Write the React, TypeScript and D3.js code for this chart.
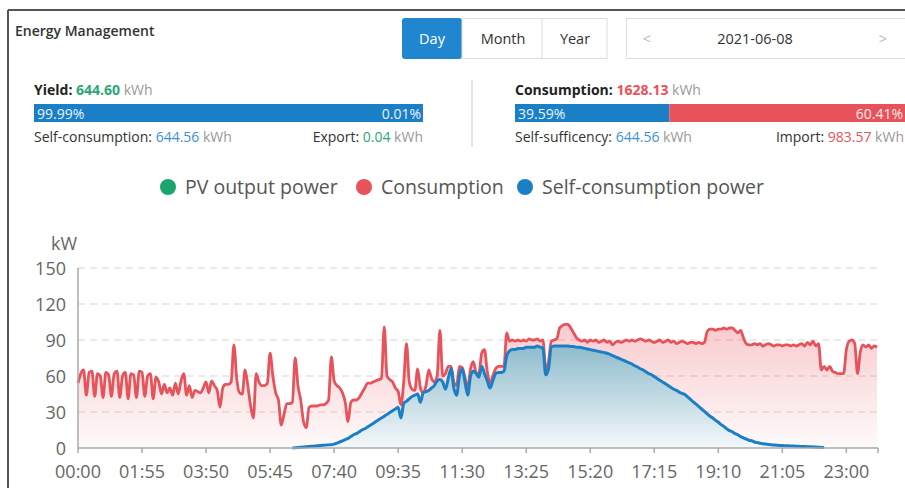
import React from 'react';
import * as d3 from 'd3';

// 5-minute samples, 00:00 .. 23:55
const times = d3.range(288).map(
  (i) => `${String(Math.floor((i * 5) / 60)).padStart(2, '0')}:${String((i * 5) % 60).padStart(2, '0')}`
);
const xTickLabels = ['00:00', '01:55', '03:50', '05:45', '07:40', '09:35', '11:30', '13:25', '15:20', '17:15', '19:10', '21:05', '23:00'];
const yTicks = [0, 30, 60, 90, 120, 150];

// kW
const consumption = [
  54, 62, 65, 44, 63, 64, 43, 62, 60, 42, 63, 61, 43, 62, 64, 42, 60, 63, 41, 62, 61, 42, 64, 63, 43, 60, 62, 41, 59, 55, 45,
  53, 46, 50, 44, 54, 45, 56, 62, 44, 52, 42, 48, 47, 46, 50, 55, 46, 56, 52, 48,
  34, 50, 53, 53, 55, 86, 58, 46, 45, 65,
  52, 35, 25, 62, 55, 52, 52, 54, 79, 60,
  46, 40, 19, 28, 37, 37, 38, 75, 52, 40,
  22, 17, 34, 35, 35, 35, 36, 36, 37, 40,
  76, 56, 52, 50, 46, 38, 22, 38, 40, 40,
  42, 46, 50, 54, 54, 55, 56, 57, 58, 101,
  60, 57, 55, 50, 47, 36, 55, 87, 55, 49,
  48, 66, 50, 46, 52, 65, 58, 55, 60, 98,
  60, 62, 68, 68, 55, 52, 68, 67, 59, 50,
  66, 72, 63, 62, 79, 82, 64, 54, 60, 66,
  68, 68, 68, 96, 89, 90, 89, 90, 89, 90,
  89, 91, 90, 90, 91, 89, 90, 66, 72, 89,
  90, 91, 100, 102, 103, 103, 100, 96, 92, 90,
  89, 90, 88, 90, 89, 90, 88, 89, 90, 88,
  89, 86, 88, 89, 88, 89, 90, 89, 90, 89,
  90, 91, 90, 89, 90, 89, 88, 89, 90, 88,
  89, 90, 88, 89, 87, 88, 89, 88, 87, 88,
  88, 87, 88, 87, 88, 97, 99, 99, 98, 99,
  99, 100, 99, 100, 100, 98, 96, 98, 92, 87,
  86, 86, 87, 86, 87, 85, 86, 87, 86, 85,
  86, 86, 85, 86, 86, 85, 86, 85, 86, 87,
  85, 88, 86, 89, 85, 87, 65, 68, 65, 68,
  64, 63, 62, 62, 62, 82, 89, 90, 87, 62,
  80, 86, 84, 86, 83, 85, 84,
];

// self-consumption power, starts at sample 77 (06:25)
const selfConsumptionStart = 77;
const selfConsumption = [
  0, 0.2, 0.4, 0.6, 0.8, 1, 1.2, 1.4, 1.6, 1.8,
  2, 2.2, 2.4, 2.6, 2.8, 3.2, 4, 5, 6, 7,
  8, 9.5, 11, 12, 13.5, 15, 16, 17.5, 19, 20.5,
  22, 23.5, 25, 26.5, 28, 29.5, 31, 32.5, 34, 25,
  37, 39, 41, 43, 44, 45, 38, 46, 47, 48,
  50, 52, 56, 57, 55, 49, 58, 66, 50, 44,
  60, 66, 55, 44, 60, 64, 62, 59, 68, 62,
  56, 50, 56, 62, 63, 63, 64, 77, 81, 82,
  82, 83, 83, 83, 84, 84, 84, 84, 85, 84,
  83, 61, 66, 84, 85, 85, 85, 85, 85, 85,
  84.5, 84.5, 84, 84, 83.5, 83, 82.5, 82, 81.5, 81,
  80.5, 80, 79.5, 79, 78, 77, 76, 75, 74, 73,
  72, 71, 70, 68.5, 67.5, 66, 65, 63.5, 62, 61,
  59.5, 58, 56.5, 55, 53.5, 52, 50.5, 49, 48, 46.5,
  45.5, 44.5, 42.5, 40.5, 38.5, 36.5, 34.5, 32.5, 30.5, 28.5,
  26.5, 25, 23, 21.5, 19.5, 18, 16, 14.5, 13.5, 12,
  11, 9.5, 8.5, 7.5, 6.5, 6, 5, 4.5, 4, 3.6,
  3.3, 3, 2.7, 2.5, 2.3, 2.1, 2, 1.9, 1.8, 1.7,
  1.6, 1.5, 1.4, 1.3, 1.2, 1.1, 1, 0.9, 0.8, 0.6,
  0.5, 0.4,
];

const legendItems = [
  { name: 'PV output power', color: '#1aa56c' },
  { name: 'Consumption', color: '#e8525a' },
  { name: 'Self-consumption power', color: '#1b7fc6' },
];

const FONT = "'Open Sans', 'Noto Sans', sans-serif";
const RED = '#e8525a';
const BLUE = '#1b7fc6';
const GREEN = '#2aa876';

export default function App() {
  const width = 905;
  const height = 488;
  const margin = { top: 268, right: 28, bottom: 40, left: 78 };

  const x = d3.scalePoint<string>().domain(times).range([margin.left, width - margin.right]);
  const y = d3.scaleLinear().domain([0, 150]).range([height - margin.bottom, margin.top]);

  const redData = consumption.map((v, i) => ({ t: times[i], v }));
  const blueData = selfConsumption.map((v, i) => ({ t: times[i + selfConsumptionStart], v }));

  const line = d3
    .line<{ t: string; v: number }>()
    .x((d) => x(d.t) as number)
    .y((d) => y(d.v))
    .curve(d3.curveMonotoneX);
  const area = d3
    .area<{ t: string; v: number }>()
    .x((d) => x(d.t) as number)
    .y0(y(0))
    .y1((d) => y(d.v))
    .curve(d3.curveMonotoneX);

  const legendX = [160, 356, 517];

  return (
    <svg
      width={width}
      height={height}
      style={{ position: 'absolute', left: 0, top: 0, background: '#fff' }}
      fontFamily={FONT}
    >
      <defs>
        <linearGradient id="redFill" x1="0" y1="0" x2="0" y2="1">
          <stop offset="0" stopColor={RED} stopOpacity={0.3} />
          <stop offset="1" stopColor={RED} stopOpacity={0.03} />
        </linearGradient>
        <linearGradient id="blueFill" x1="0" y1="0" x2="0" y2="1">
          <stop offset="0" stopColor="#8fbccd" stopOpacity={1} />
          <stop offset="1" stopColor="#f4f8fa" stopOpacity={1} />
        </linearGradient>
      </defs>

      {/* frame */}
      <line x1={8} x2={905} y1={10} y2={10} stroke="#555" strokeWidth={2} />
      <line x1={8} x2={8} y1={10} y2={488} stroke="#555" strokeWidth={2} />

      {/* header */}
      <text x={15} y={36} fontSize={14} fontWeight={600} fill="#333">Energy Management</text>
      <rect x={402} y={18} width={60} height={41} rx={3} fill="#1f86cf" />
      <text x={432} y={44} fontSize={14.5} fill="#fff" textAnchor="middle">Day</text>
      <rect x={462} y={18.5} width={145} height={40} fill="#fff" stroke="#ddd" />
      <line x1={542} x2={542} y1={18.5} y2={58.5} stroke="#ddd" />
      <text x={503} y={44} fontSize={14.5} fill="#333" textAnchor="middle">Month</text>
      <text x={575} y={44} fontSize={14.5} fill="#333" textAnchor="middle">Year</text>
      <rect x={626.5} y={18.5} width={290} height={40} fill="#fff" stroke="#ddd" />
      <text x={647} y={44} fontSize={14.5} fill="#bbb" textAnchor="middle">&lt;</text>
      <text x={755} y={44} fontSize={14.5} fill="#333" textAnchor="middle">2021-06-08</text>
      <text x={883} y={44} fontSize={14.5} fill="#bbb" textAnchor="middle">&gt;</text>

      {/* yield summary */}
      <text x={34} y={95} fontSize={14}>
        <tspan fontWeight={700} fill="#222">Yield: </tspan>
        <tspan fontWeight={700} fill={GREEN}>644.60</tspan>
        <tspan fill="#999"> kWh</tspan>
      </text>
      <rect x={34} y={104} width={389 * 0.9999} height={18} fill={BLUE} />
      <rect x={34 + 389 * 0.9999} y={104} width={389 * 0.0001} height={18} fill={GREEN} />
      <text x={37} y={118.5} fontSize={14} fill="#e8f2fa">99.99%</text>
      <text x={421} y={118.5} fontSize={14} fill="#e8f2fa" textAnchor="end">0.01%</text>
      <text x={34} y={142} fontSize={14}>
        <tspan fill="#333">Self-consumption: </tspan>
        <tspan fill="#3d8fd1">644.56</tspan>
        <tspan fill="#999"> kWh</tspan>
      </text>
      <text x={423} y={142} fontSize={14} textAnchor="end">
        <tspan fill="#333">Export: </tspan>
        <tspan fill={GREEN}>0.04</tspan>
        <tspan fill="#999"> kWh</tspan>
      </text>

      <line x1={472} x2={472} y1={80} y2={147} stroke="#ccc" />

      {/* consumption summary */}
      <text x={515} y={95} fontSize={14}>
        <tspan fontWeight={700} fill="#222">Consumption: </tspan>
        <tspan fontWeight={700} fill={RED}>1628.13</tspan>
        <tspan fill="#999"> kWh</tspan>
      </text>
      <rect x={515} y={104} width={390 * 0.3959} height={18} fill={BLUE} />
      <rect x={515 + 390 * 0.3959} y={104} width={390 * 0.6041} height={18} fill={RED} />
      <text x={518} y={118.5} fontSize={14} fill="#e8f2fa">39.59%</text>
      <text x={903} y={118.5} fontSize={14} fill="#fdeaea" textAnchor="end">60.41%</text>
      <text x={515} y={142} fontSize={14}>
        <tspan fill="#333">Self-sufficency: </tspan>
        <tspan fill="#3d8fd1">644.56</tspan>
        <tspan fill="#999"> kWh</tspan>
      </text>
      <text x={904} y={142} fontSize={14} textAnchor="end">
        <tspan fill="#333">Import: </tspan>
        <tspan fill={RED}>983.57</tspan>
        <tspan fill="#999"> kWh</tspan>
      </text>

      {/* legend */}
      {legendItems.map((d, i) => (
        <g key={d.name} transform={`translate(${legendX[i]},187)`}>
          <circle cx={8} cy={0} r={8} fill={d.color} />
          <text x={25} y={6.5} fontSize={19.5} fill="#555">{d.name}</text>
        </g>
      ))}

      {/* grid */}
      {yTicks.slice(1).map((t) => (
        <line key={t} x1={margin.left} x2={width - margin.right} y1={y(t)} y2={y(t)} stroke="#ddd3d3" strokeDasharray="7 5" />
      ))}

      {/* areas */}
      <path d={area(redData) as string} fill="url(#redFill)" />
      <path d={area(blueData) as string} fill="url(#blueFill)" />

      {/* lines */}
      <path d={line(redData) as string} fill="none" stroke={RED} strokeWidth={2.8} strokeLinejoin="round" />
      <path d={line(blueData) as string} fill="none" stroke={BLUE} strokeWidth={3} strokeLinejoin="round" />

      {/* axes */}
      <line x1={margin.left} x2={margin.left} y1={y(150)} y2={y(0)} stroke="#aaa" strokeWidth={1.5} />
      <line x1={margin.left} x2={width - margin.right + 1} y1={y(0)} y2={y(0)} stroke="#aaa" strokeWidth={1.5} />
      {xTickLabels.map((t) => (
        <g key={t} transform={`translate(${x(t)},${y(0)})`}>
          <line y1={0} y2={5} stroke="#aaa" strokeWidth={1.5} />
          <text y={30} fontSize={18} fill="#666" textAnchor="middle">{t}</text>
        </g>
      ))}
      <line x1={width - margin.right + 1} x2={width - margin.right + 1} y1={y(0)} y2={y(0) + 5} stroke="#aaa" strokeWidth={1.5} />
      {yTicks.map((t) => (
        <text key={t} x={66} y={y(t) + 6.5} fontSize={18} fill="#666" textAnchor="end">{t}</text>
      ))}
      <text x={64} y={250} fontSize={18} fill="#666" textAnchor="middle">kW</text>
    </svg>
  );
}
